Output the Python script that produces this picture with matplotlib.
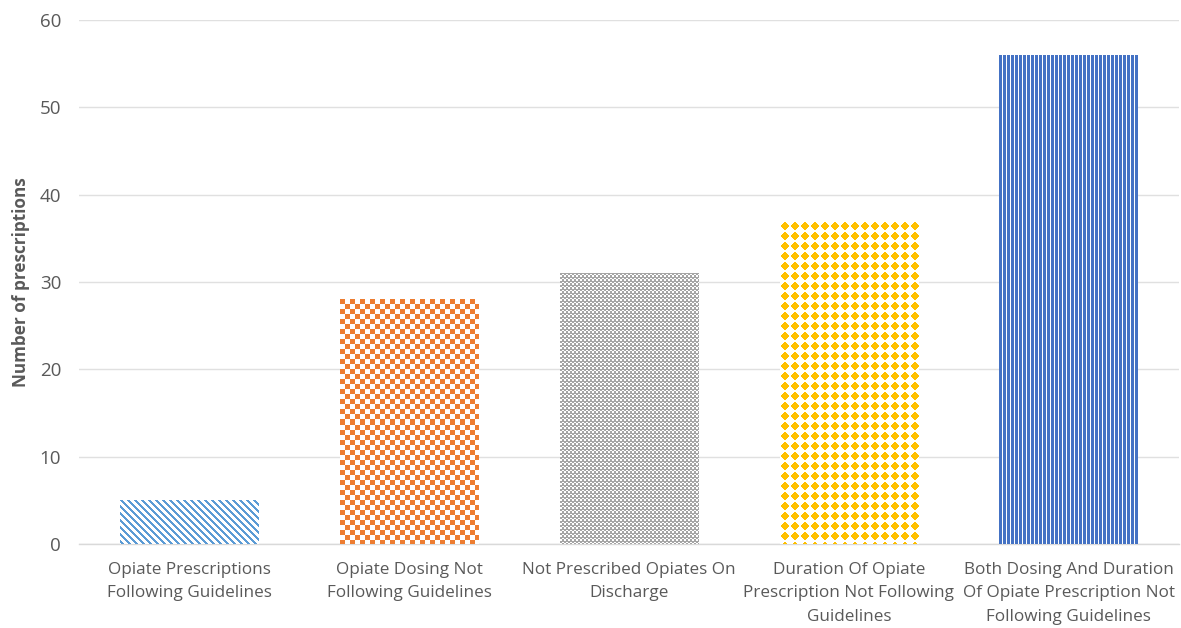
import numpy as np
import matplotlib
matplotlib.use("Agg")
import matplotlib.pyplot as plt
from matplotlib.colors import to_rgba

categories = [
    "Opiate Prescriptions\nFollowing Guidelines",
    "Opiate Dosing Not\nFollowing Guidelines",
    "Not Prescribed Opiates On\nDischarge",
    "Duration Of Opiate\nPrescription Not Following\nGuidelines",
    "Both Dosing And Duration\nOf Opiate Prescription Not\nFollowing Guidelines",
]
counts = [5, 28, 31, 37, 56]
colors = ["#5B9BD5", "#ED7D31", "#A5A5A5", "#FFC000", "#4472C4"]
patterns = ["diagonal", "checker", "finechecker", "diamond", "vertical"]

plt.rcParams["font.family"] = ["Open Sans", "DejaVu Sans"]

fig = plt.figure(figsize=(11.81, 6.28), dpi=100)
ax = fig.add_axes([0.067, 0.134, 0.931, 0.834])

x = np.arange(len(categories))
bars = ax.bar(x, counts, width=0.63, facecolor="none", edgecolor="none", zorder=3)

ax.set_xlim(-0.5, len(categories) - 0.5)
ax.set_ylim(0, 60)
ax.set_yticks(np.arange(0, 61, 10))
ax.set_xticks(x)
ax.set_xticklabels(categories, fontsize=12.3, color="#595959", linespacing=1.62)
ax.tick_params(axis="y", labelsize=13.5, colors="#595959", length=0, pad=13)
ax.tick_params(axis="x", length=0, pad=13)
ax.grid(axis="y", color="#E0E0E0", linewidth=1.0, zorder=0)
for side in ["top", "right", "left"]:
    ax.spines[side].set_visible(False)
ax.spines["bottom"].set_color("#D9D9D9")
ax.spines["bottom"].set_linewidth(1.0)
ax.set_ylabel("Number of prescriptions", fontsize=12.3, fontweight="bold",
              color="#595959")
ax.yaxis.set_label_coords(-0.045, 0.5)


def texture(kind, w, h, color):
    """Build an RGBA pixel texture of size h x w for a bar fill."""
    yy, xx = np.mgrid[0:h, 0:w]
    if kind == "diagonal":
        mask = ((xx - yy) % 7) < 3
    elif kind == "checker":
        mask = ((xx // 5 + yy // 5) % 2) == 0
    elif kind == "finechecker":
        mask = ((xx // 2 + yy // 2) % 2) == 0
        mask |= (yy % 4) == 0
    elif kind == "diamond":
        p = 10
        dx = np.abs((xx % p) - p / 2 + 0.5)
        dy = np.abs((yy % p) - p / 2 + 0.5)
        mask = (dx + dy) <= 4.6
    else:  # vertical
        mask = (xx % 4) < 3
    rgba = np.ones((h, w, 4))
    rgba[mask] = np.array(to_rgba(color))
    return rgba


fig.canvas.draw()
for bar, kind, col in zip(bars, patterns, colors):
    x0, y0 = bar.get_x(), bar.get_y()
    x1, y1 = x0 + bar.get_width(), y0 + bar.get_height()
    (px0, py0), (px1, py1) = ax.transData.transform([(x0, y0), (x1, y1)])
    w = max(int(round(px1 - px0)), 1)
    h = max(int(round(py1 - py0)), 1)
    img = texture(kind, w, h, col)
    ax.imshow(img, extent=(x0, x1, y0, y1), origin="upper",
              interpolation="nearest", aspect="auto", zorder=3)

ax.set_xlim(-0.5, len(categories) - 0.5)
ax.set_ylim(0, 60)

fig.savefig("out.png", dpi=100, facecolor="white")
